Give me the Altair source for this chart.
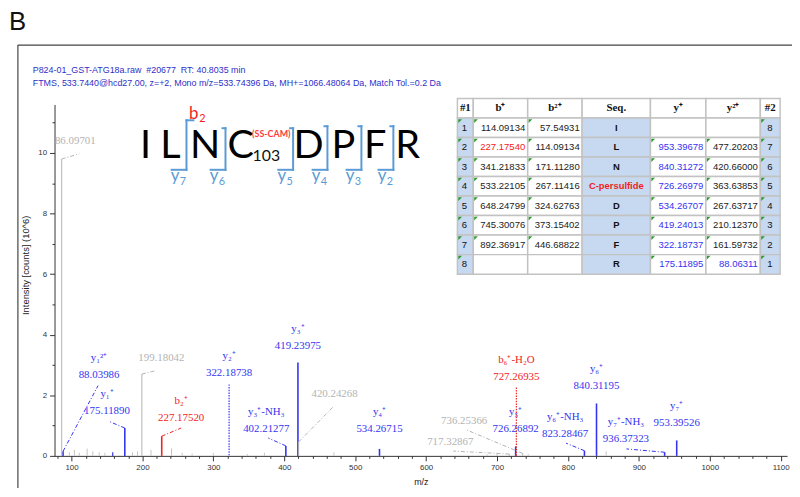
import altair as alt
import pandas as pd

# ================= DATA =================
# annotated fragment ions (m/z, intensity in 10^6 counts)
ION_NAME = ["y₁²⁺", "y₁⁺", "b₂⁺", "y₂⁺", "y₃⁺-NH₃", "y₃⁺", "y₄⁺", "y₅⁺",
            "b₆⁺-H₂O", "y₆⁺-NH₃", "y₆⁺", "y₇⁺-NH₃", "y₇⁺"]
ION_MZ = [88.03986, 175.11890, 227.17520, 322.18738, 402.21277, 419.23975,
          534.26715, 726.26892, 727.26935, 823.28467, 840.31195, 936.37323, 953.39526]
ION_INT = [0.15, 0.92, 0.65, 2.36, 0.33, 3.08, 0.23, 0.31, 2.26, 0.17, 1.73, 0.12, 0.51]
ION_SERIES = ["y", "y", "b", "y", "y", "y", "y", "y", "b", "y", "y", "y", "y"]
ION_DOTTED = [False, False, False, True, False, False, False, False, True,
              False, False, False, False]
# label anchors (value line) and leader-line ends, in data units
ION_LABEL_MZ = [138.8, 150.0, 254.6, 322.19, 374.6, 419.24, 534.27, 726.27,
                727.27, 796.0, 840.31, 881.8, 953.40]
ION_LABEL_INT = [2.68, 1.47, 1.24, 2.75, 0.88, 3.63, 0.88, 0.88, 2.61, 0.72, 2.32, 0.57, 1.09]
ION_LEADER_MZ = [137.4, 152.7, 254.6, None, 377.4, None, None, None, None, 797.4, None, 882.5, None]
ION_LEADER_INT = [2.32, 1.14, 0.92, None, 0.59, None, None, None, None, 0.42, None, 0.23, None]

# unassigned but labelled peaks
OTHER_MZ = [86.09701, 199.18042, 420.24268, 717.32867, 736.25366]
OTHER_INT = [9.8, 2.7, 0.46, 0.06, 0.08]
OTHER_LABEL_MZ = [105.3, 226.7, 470.9, 634.1, 653.7]
OTHER_LABEL_INT = [10.39, 3.24, 2.03, 0.46, 1.14]
OTHER_LEADER_MZ = [110.9, 218.3, 469.5, 638.3, 657.8]
OTHER_LEADER_INT = [9.97, 2.81, 1.63, 0.16, 0.85]

# small unlabelled peaks
MINOR_ION_MZ = [158.09]
MINOR_ION_INT = [0.12]
NOISE_MZ = [97, 104, 111, 122, 130, 139, 147, 186, 193, 212, 241, 256, 270,
            300, 348, 372, 470, 686, 700, 744, 854, 1003]
NOISE_INT = [0.12, 0.2, 0.1, 0.24, 0.15, 0.12, 0.1, 0.12, 0.15, 0.2, 0.25, 0.1,
             0.08, 0.1, 0.06, 0.1, 0.12, 0.05, 0.08, 0.06, 0.15, 0.04]

# fragment table
TBL_COLS = ["#1", "b⁺", "b²⁺", "Seq.", "y⁺", "y²⁺", "#2"]
TBL_N1 = ["1", "2", "3", "4", "5", "6", "7", "8"]
TBL_B1 = ["114.09134", "227.17540", "341.21833", "533.22105", "648.24799",
          "745.30076", "892.36917", ""]
TBL_B2 = ["57.54931", "114.09134", "171.11280", "267.11416", "324.62763",
          "373.15402", "446.68822", ""]
TBL_SEQ = ["I", "L", "N", "C-persulfide", "D", "P", "F", "R"]
TBL_Y1 = ["", "953.39678", "840.31272", "726.26979", "534.26707", "419.24013",
          "322.18737", "175.11895"]
TBL_Y2 = ["", "477.20203", "420.66000", "363.63853", "267.63717", "210.12370",
          "161.59732", "88.06311"]
TBL_N2 = ["8", "7", "6", "5", "4", "3", "2", "1"]
MATCH_B1 = [False, True, False, False, False, False, False, False]
MATCH_Y1 = [False, True, True, True, True, True, True, True]
MATCH_Y2 = [False, False, False, False, False, False, False, True]
MOD_SEQ = [False, False, False, True, False, False, False, False]

# peptide sequence diagram
RESIDUES = ["I", "L", "N", "C", "D", "P", "F", "R"]
Y_IONS = ["7", "6", "5", "4", "3", "2"]
HEADER_LINES = ["P824-01_GST-ATG18a.raw\u00a0\u00a0#20677\u00a0\u00a0RT: 40.8035 min",
                "FTMS, 533.7440@hcd27.00, z=+2, Mono m/z=533.74396 Da, MH+=1066.48064 Da, Match Tol.=0.2 Da"]

# ================= LAYOUT / STYLE =================
BLUE = "#3434f0"
RED = "#f22222"
GREY = "#b3b3b3"
BRACKET = "#5b9bd5"
SERIES_COLOR = {"y": BLUE, "b": RED}
COL_W = [16, 55, 55, 69, 56, 55, 20]
RESIDUE_X = [147, 172, 207, 243, 311.7, 346.7, 379, 411.7]
CLEAVE_X = [188.3, 227.7, 296, 330.7, 365, 397.3]
CLEAVE_TOP = [119, 127, 127, 125, 125, 125]

# ================= SPECTRUM =================
ions = pd.DataFrame({"mz": ION_MZ, "I": ION_INT, "name": ION_NAME,
                     "lmz": ION_LABEL_MZ, "lint": ION_LABEL_INT,
                     "emz": ION_LEADER_MZ, "eint": ION_LEADER_INT,
                     "dotted": ION_DOTTED})
ions["color"] = [SERIES_COLOR[s] for s in ION_SERIES]
ions["w"] = 1.6
others = pd.DataFrame({"mz": OTHER_MZ, "I": OTHER_INT, "name": [""] * len(OTHER_MZ),
                       "lmz": OTHER_LABEL_MZ, "lint": OTHER_LABEL_INT,
                       "emz": OTHER_LEADER_MZ, "eint": OTHER_LEADER_INT,
                       "dotted": [False] * len(OTHER_MZ)})
others["color"] = GREY
others["w"] = 1.0
labelled = pd.concat([ions, others], ignore_index=True)
labelled["val"] = labelled["mz"].map(lambda v: f"{v:.5f}")

minor = pd.DataFrame({"mz": MINOR_ION_MZ, "I": MINOR_ION_INT, "color": BLUE, "w": 1.2, "dotted": False})
noise = pd.DataFrame({"mz": NOISE_MZ, "I": NOISE_INT, "color": "#c4c4c4", "w": 1.0, "dotted": False})
peaks = pd.concat([noise, minor, labelled[["mz", "I", "color", "w", "dotted"]]], ignore_index=True)
peaks["zero"] = 0.0
leaders = labelled.dropna(subset=["emz"]).copy()

xs = alt.Scale(domain=[76, 1109], nice=False, zero=False)
ys = alt.Scale(domain=[0, 11.6], nice=False)
x_axis = alt.Axis(values=list(range(80, 1101, 20)), format="d",
                  labelExpr="datum.value % 100 === 0 ? datum.label : ''",
                  tickSize=alt.condition("datum.value % 100 === 0", alt.value(5), alt.value(2.5)),
                  labelOverlap=False, labelFontSize=8, labelPadding=3,
                  titleFontSize=9, titlePadding=6, title="m/z")
y_axis = alt.Axis(values=[i * 0.5 for i in range(0, 24)], format="d",
                  labelExpr="datum.value % 2 === 0 ? datum.label : ''",
                  tickSize=alt.condition("datum.value % 2 === 0", alt.value(5), alt.value(2.5)),
                  labelOverlap=False, labelFontSize=8, labelPadding=3,
                  titleFontSize=9.5, titleX=-24, titleY=162,
                  title="Intensity [counts] (10^6)")


def X(f):
    return alt.X(f"{f}:Q", scale=xs, axis=x_axis)


def Y(f):
    return alt.Y(f"{f}:Q", scale=ys, axis=y_axis)


solid = alt.Chart(peaks[~peaks["dotted"]]).mark_rule().encode(
    x=X("mz"), y=Y("I"), y2="zero:Q",
    color=alt.Color("color:N", scale=None),
    strokeWidth=alt.StrokeWidth("w:Q", scale=None))
dotted = alt.Chart(peaks[peaks["dotted"]]).mark_rule(strokeDash=[1.5, 1.2], strokeWidth=1.2).encode(
    x=X("mz"), y=Y("I"), y2="zero:Q",
    color=alt.Color("color:N", scale=None))
lead = alt.Chart(leaders).mark_rule(strokeDash=[4, 2, 1, 2], strokeWidth=1).encode(
    x=X("mz"), y=Y("I"), x2="emz:Q", y2="eint:Q",
    color=alt.Color("color:N", scale=None))
vals = alt.Chart(labelled).mark_text(font="Liberation Serif", fontSize=11, baseline="middle").encode(
    x=X("lmz"), y=Y("lint"), text="val:N", color=alt.Color("color:N", scale=None))
names = alt.Chart(labelled[labelled["name"] != ""]).mark_text(
    font="Liberation Serif", fontSize=11, baseline="middle", dy=-17).encode(
    x=X("lmz"), y=Y("lint"), text="name:N", color=alt.Color("color:N", scale=None))
spectrum = alt.layer(solid, dotted, lead, vals, names)

# ================= TABLE =================
edges = [0]
for w in COL_W:
    edges.append(edges[-1] + w)
ROW_KEYS = ["h"] + TBL_N1
cells = []
for ci, col in enumerate(TBL_COLS):
    cells.append(dict(row="h", x0=edges[ci], x1=edges[ci + 1], fill="#ffffff",
                      text=col, kind="head", color="#111111"))
for ri in range(8):
    vals_r = [TBL_N1[ri], TBL_B1[ri], TBL_B2[ri], TBL_SEQ[ri], TBL_Y1[ri], TBL_Y2[ri], TBL_N2[ri]]
    cols_r = ["#111111", RED if MATCH_B1[ri] else "#222222", "#222222",
              RED if MOD_SEQ[ri] else "#111111",
              BLUE if MATCH_Y1[ri] else "#222222", BLUE if MATCH_Y2[ri] else "#222222", "#111111"]
    kinds = ["idx", "num", "num", "seq", "num", "num", "idx2"]
    for ci in range(7):
        cells.append(dict(row=TBL_N1[ri], x0=edges[ci], x1=edges[ci + 1],
                          fill="#c6d9f0" if ci in (0, 3, 6) else "#ffffff",
                          text=vals_r[ci], kind=kinds[ci], color=cols_r[ci]))
cells = pd.DataFrame(cells)
cells["tx"] = (cells["x0"] + cells["x1"]) / 2
cells.loc[cells["kind"] == "num", "tx"] = cells["x1"] - 2.5
cells.loc[cells["kind"] == "idx", "tx"] = cells["x0"] + 4.5
cells.loc[cells["kind"] == "idx2", "tx"] = cells["x0"] + 7
marks = cells[(cells["kind"] != "head") & (cells["kind"] != "seq") & (cells["text"] != "")]

tx_s = alt.Scale(domain=[0, edges[-1]], range=[407, 733], nice=False, zero=False)
ty_s = alt.Scale(domain=ROW_KEYS, range=[-6, 171.4], paddingInner=0, paddingOuter=0)
TY = alt.Y("row:N", scale=ty_s, axis=None, sort=ROW_KEYS)

t_rect = alt.Chart(cells).mark_rect(stroke="#c2c2c2", strokeWidth=1.5).encode(
    x=alt.X("x0:Q", scale=tx_s, axis=None), x2="x1:Q", y=TY,
    fill=alt.Fill("fill:N", scale=None))


def ttext(df, **kw):
    return alt.Chart(df).mark_text(baseline="middle", **kw).encode(
        x=alt.X("tx:Q", scale=tx_s, axis=None), y=TY, text="text:N",
        color=alt.Color("color:N", scale=None))


t_head = ttext(cells[cells["kind"] == "head"], font="Liberation Serif", fontWeight="bold",
               fontSize=11, align="center")
t_num = ttext(cells[cells["kind"] == "num"], font="Liberation Sans", fontSize=9.6, align="right")
t_seq = ttext(cells[cells["kind"] == "seq"], font="Liberation Sans", fontWeight="bold",
              fontSize=9.5, align="center")
t_idx = ttext(cells[cells["kind"].isin(["idx", "idx2"])], font="Liberation Sans",
              fontSize=9.6, align="left")
t_mark = alt.Chart(marks).mark_point(shape="M -1 -1 L 1 -1 L -1 1 Z", filled=True, size=14,
                                     color="#2e9a2e", opacity=1, xOffset=2.8, yOffset=-6.8).encode(
    x=alt.X("x0:Q", scale=tx_s, axis=None), y=TY)
table = alt.layer(t_rect, t_head, t_num, t_seq, t_idx, t_mark)

# ================= PAGE ANNOTATIONS (B, header, peptide diagram) =================
PX = alt.Scale(domain=[0, 800], range=[-55, 745], nice=False, zero=False)
PY = alt.Scale(domain=[0, 497], range=[-103, 394], nice=False, zero=False)


def AX(f):
    return alt.X(f"{f}:Q", scale=PX, axis=None)


def AY(f):
    return alt.Y(f"{f}:Q", scale=PY, axis=None)


frame = pd.DataFrame({"x": [18, 18], "y": [43, 43], "x2": [800, 18], "y2": [43, 497]})
a_frame = alt.Chart(frame).mark_rule(color="#444444", strokeWidth=1.2).encode(
    x=AX("x"), y=AY("y"), x2="x2:Q", y2="y2:Q")

a_B = alt.Chart(pd.DataFrame({"t": ["B"], "x": [9], "y": [28]})).mark_text(
    font="Liberation Sans", fontSize=26, align="left", baseline="alphabetic", color="#111111").encode(
    x=AX("x"), y=AY("y"), text="t:N")
a_head = alt.Chart(pd.DataFrame({"t": HEADER_LINES, "x": [33, 33], "y": [68, 81]})).mark_text(
    font="Liberation Sans", fontSize=9, align="left", baseline="middle", color="#2f2fc8").encode(
    x=AX("x"), y=AY("y"), text="t:N")

a_res = alt.Chart(pd.DataFrame({"t": RESIDUES, "x": RESIDUE_X, "y": [157] * 8})).mark_text(
    font="Lato", fontSize=40, align="center", baseline="alphabetic", color="#000000").encode(
    x=AX("x"), y=AY("y"), text="t:N")

small = [dict(t="103", x=269, y=160, fs=16, c="#111111"),
         dict(t="b", x=195.5, y=118, fs=17, c=RED),
         dict(t="2", x=204.5, y=121, fs=11, c=RED)]
for k, v in enumerate(CLEAVE_X):
    small.append(dict(t="y", x=v - 11.5, y=180, fs=17, c=BRACKET))
    small.append(dict(t=Y_IONS[k], x=v - 3.5, y=184, fs=11, c=BRACKET))
small = pd.DataFrame(small)
a_small = alt.Chart(small).mark_text(font="Lato", align="center", baseline="alphabetic").encode(
    x=AX("x"), y=AY("y"), text="t:N", size=alt.Size("fs:Q", scale=None),
    color=alt.Color("c:N", scale=None))
a_mod = alt.Chart(pd.DataFrame({"t": ["(SS-CAM)"], "x": [274], "y": [133]})).mark_text(
    font="Lato", fontWeight="bold", fontSize=9, align="center", baseline="middle",
    color="#ff3b3b").encode(x=AX("x"), y=AY("y"), text="t:N")

segs = []
for k, v in enumerate(CLEAVE_X):
    top = CLEAVE_TOP[k]
    segs.append(dict(x=v, y=top, x2=v, y2=169))
    segs.append(dict(x=v - 15, y=169, x2=v, y2=169))
    if k == 0:
        segs.append(dict(x=v, y=top, x2=v + 7, y2=top))
    else:
        segs.append(dict(x=v - 3, y=top, x2=v, y2=top))
segs = pd.DataFrame(segs)
a_br = alt.Chart(segs).mark_rule(color=BRACKET, strokeWidth=2, strokeCap="square").encode(
    x=AX("x"), y=AY("y"), x2="x2:Q", y2="y2:Q")

annot = alt.layer(a_frame, a_B, a_head, a_br, a_res, a_small, a_mod)

chart = alt.layer(spectrum, table, annot).resolve_scale(
    x="independent", y="independent"
).properties(
    width=740, height=355,
    autosize=alt.AutoSizeParams(type="none"),
    padding={"left": 47, "top": 95, "right": 5, "bottom": 30},
    background="white",
).configure_view(stroke=None).configure_axis(
    grid=False, domainColor="#333333", tickColor="#333333", labelColor="#333333",
    titleColor="#222222", labelFont="Liberation Sans", titleFont="Liberation Sans",
    titleFontWeight="normal")

chart.save("out.html", embed_options={"renderer": "svg", "actions": False})
